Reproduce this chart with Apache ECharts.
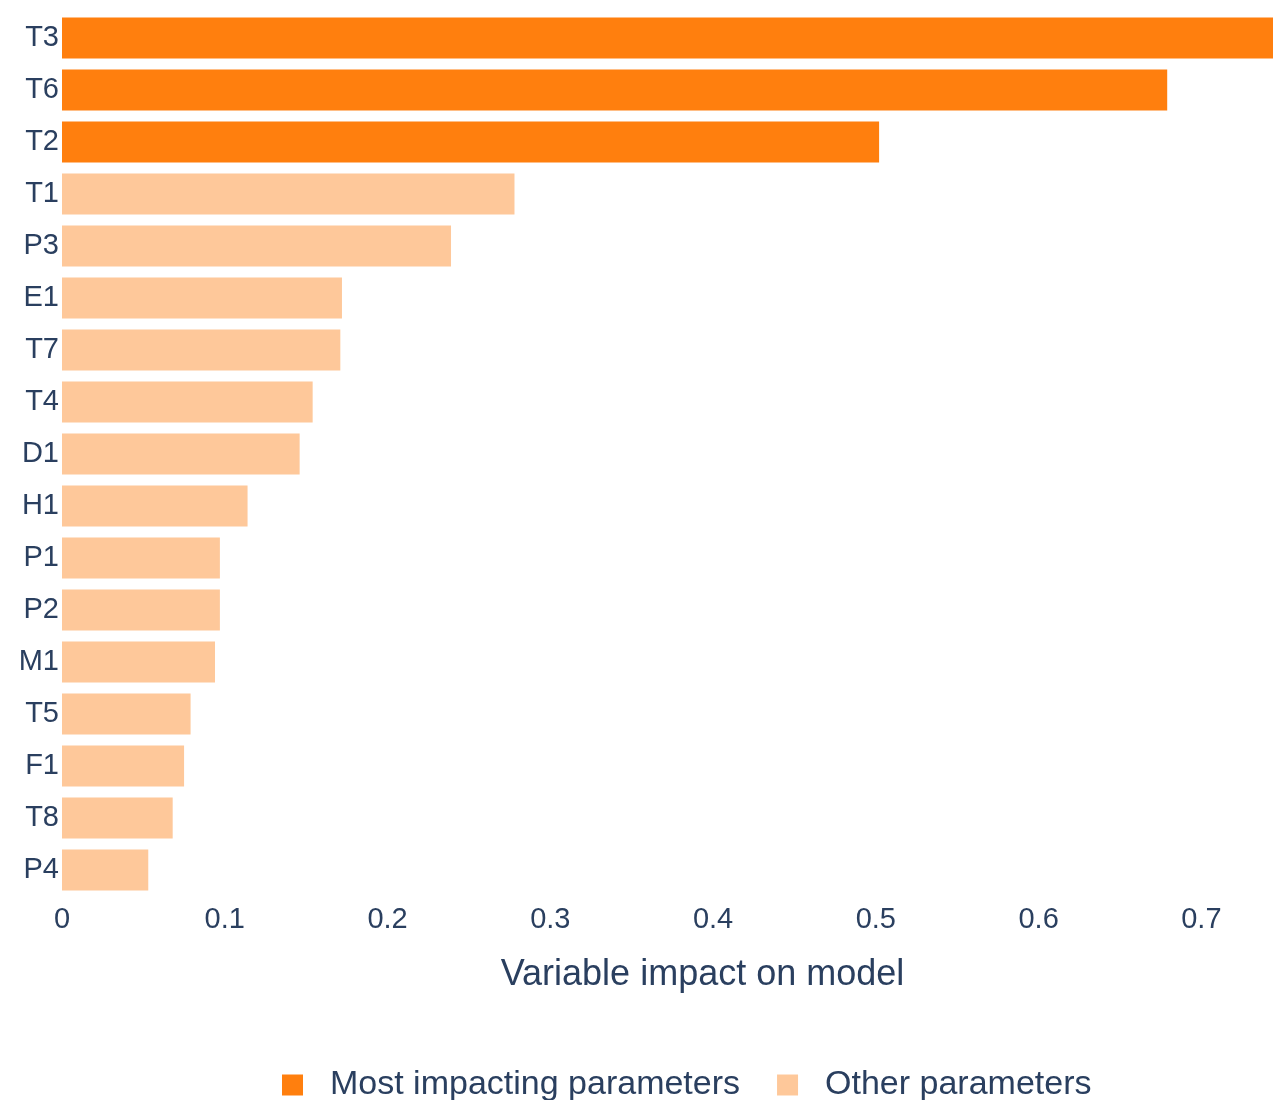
<!DOCTYPE html>
<html>
<head>
<meta charset="utf-8">
<script src="https://cdn.jsdelivr.net/npm/echarts@6/dist/echarts.min.js"></script>
<style>
html, body { margin: 0; padding: 0; background: #fff; }
#plot { width: 1273px; height: 1100px; }
</style>
</head>
<body>
<div id="plot"></div>
<script>
var categories = ['T3', 'T6', 'T2', 'T1', 'P3', 'E1', 'T7', 'T4', 'D1', 'H1', 'P1', 'P2', 'M1', 'T5', 'F1', 'T8', 'P4'];
var mostImpacting = [0.745, 0.679, 0.502, '-', '-', '-', '-', '-', '-', '-', '-', '-', '-', '-', '-', '-', '-'];
var otherParams = ['-', '-', '-', 0.278, 0.239, 0.172, 0.171, 0.154, 0.146, 0.114, 0.097, 0.097, 0.094, 0.079, 0.075, 0.068, 0.053];
var xTicks = [0, 0.1, 0.2, 0.3, 0.4, 0.5, 0.6, 0.7];

var textColor = '#2a3f5f';
var fontName = 'Liberation Sans';

var option = {
	backgroundColor: '#fff',
	animation: false,
	grid: {
		left: 62,
		right: 0,
		top: 12,
		bottom: 204
	},
	legend: {
		top: 1063,
		left: 277,
		itemWidth: 21,
		itemHeight: 21,
		itemGap: 37,
		icon: 'rect',
		textStyle: { fontSize: 34, color: textColor, fontFamily: fontName, padding: [0, 0, 0, 22] },
		data: ['Most impacting parameters', 'Other parameters']
	},
	xAxis: {
		type: 'value',
		min: 0,
		max: 0.744,
		interval: 0.1,
		name: 'Variable impact on model',
		nameLocation: 'middle',
		nameGap: 61,
		nameTextStyle: { fontSize: 36, color: textColor, fontFamily: fontName, padding: [0, 0, 0, 70] },
		axisLine: { show: false },
		axisTick: { show: false },
		splitLine: { show: false },
		axisLabel: {
			fontSize: 29,
			color: textColor,
			fontFamily: fontName,
			margin: 9,
			showMaxLabel: false,
			formatter: function (v) {
				for (var i = 0; i < xTicks.length; i++) {
					if (Math.abs(xTicks[i] - v) < 1e-6) return String(xTicks[i]);
				}
				return '';
			}
		}
	},
	yAxis: {
		type: 'category',
		inverse: true,
		data: categories,
		axisLine: { show: false },
		axisTick: { show: false },
		splitLine: { show: false },
		axisLabel: {
			fontSize: 29,
			color: textColor,
			fontFamily: fontName,
			margin: 3,
			padding: [4, 0, 0, 0]
		}
	},
	series: [
		{
			name: 'Most impacting parameters',
			type: 'bar',
			stack: 'total',
			barWidth: '79%',
			itemStyle: { color: '#ff7f0e' },
			data: mostImpacting
		},
		{
			name: 'Other parameters',
			type: 'bar',
			stack: 'total',
			barWidth: '79%',
			itemStyle: { color: '#fec89a' },
			data: otherParams
		}
	]
};

var myChart = echarts.init(document.getElementById('plot'));
myChart.setOption(option);
</script>
</body>
</html>
